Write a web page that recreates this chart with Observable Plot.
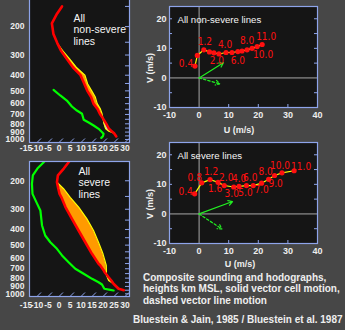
<!DOCTYPE html>
<html><head><meta charset="utf-8">
<script src="https://cdn.jsdelivr.net/npm/d3@7"></script>
<script src="https://cdn.jsdelivr.net/npm/@observablehq/plot@0.6"></script>
<style>
body{margin:0;background:#474747;}
#wrap{position:relative;width:345px;height:330px;background:#474747;overflow:hidden;font-family:"Liberation Sans",Arial,sans-serif;color:#eeeeee;}
.cap{position:absolute;font-weight:bold;font-size:10px;line-height:11.7px;white-space:nowrap;}
.ax{position:absolute;font-weight:bold;font-size:9px;line-height:12px;white-space:nowrap;text-align:center;width:100px;}
.panel{position:absolute;}
</style></head><body><div id="wrap"></div>
<script>
// ---------- Composite soundings (pressure hPa, temperature °C) ----------
// non-severe lines
const nsEnvP = [150,167,191,222,254,281,317,357,400,452,500,547,600,646,693,740,800,859,888,914,958];
const nsEnvT = [-60.5,-59.4,-57.4,-51.9,-45.8,-41.0,-34.4,-27.9,-20.8,-15.2,-10.6,-6.0,-2.0,2.2,5.5,9.0,13.0,16.5,18.8,20.8,23.3];
const nsParcelP = [254,281,317,357,400,452,500,547,600,646,693,740,800,859,888,914];
const nsParcelT = [-45.8,-40.3,-33.2,-26.4,-18.8,-13.7,-8.6,-4.1,-0.3,3.5,6.5,9.0,12.0,15.0,17.5,20.8];
const nsDewP = [493,534,574,625,662,693,755,785,819,859,901,922,954,977];
const nsDewT = [-26.4,-20.8,-15.5,-10.5,-6.4,-2.6,0.9,4.4,8.0,11.8,14.9,16.3,17.1,17.1];
// severe lines
const svEnvP = [153,168,185,204,224,241,253,291,344,406,480,566,652,668,717,735,752,790,827,867,931,950];
const svEnvT = [-56.7,-56.0,-55.6,-52.9,-49.3,-46.4,-44.0,-37.7,-29.4,-21.1,-12.7,-4.4,3.1,4.7,8.5,9.7,11.0,13.8,16.5,19.0,23.6,26.6];
const svParcelP = [204,224,253,291,344,406,480,566,668,735,752,827,867];
const svParcelT = [-52.9,-46.9,-40.0,-31.7,-22.6,-14.3,-6.7,0.6,7.4,10.5,11.0,15.3,19.0];
const svDewP = [153,168,185,209,241,271,305,378,436,480,527,579,638,700,752,808,848,876,931,945,954];
const svDewT = [-68,-68,-67,-63.5,-58.7,-53.2,-47.6,-40,-34,-28.6,-22.6,-17.3,-11.2,-5.2,0.9,7.0,11.5,14.1,17.1,20.3,22.1];
const pressureLabels = [200,300,400,500,600,700,800,900,1000];
const tempLabels = [-15,-10,-5,0,5,10,15,20,25,30];

// ---------- Hodographs (m/s), heights km MSL ----------
const hodoHeights = [0.4,0.8,1.2,1.6,2.0,3.0,4.0,5.0,6.0,7.0,8.0,9.0,10.0,11.0];
const nsU = [-1.4,-0.6,1.6,3.5,5.0,6.7,9.1,11.1,13.1,14.5,16.2,17.9,19.6,21.3];
const nsV = [4.0,7.6,9.5,8.8,8.5,8.1,8.6,8.6,8.9,9.1,9.5,10.0,10.6,11.3];
const svU = [-1.5,0.9,3.7,6.4,8.5,11.7,13.5,16.0,18.3,21.1,23.5,25.5,28.0,32.1];
const svV = [6.8,10.5,11.6,10.7,9.6,9.1,9.3,9.6,9.6,10.4,11.7,13.0,13.9,14.6];
const nsCellMotion = [8.2, 5.1];
const nsLineMotion = [7.0, -2.0];
const svCellMotion = [11.3, 4.2];
const svLineMotion = [7.7, -5.1];
const nsLabeled = [0.4,1.2,2.0,4.0,6.0,8.0,10.0,11.0];
const svLabeled = [0.4,0.8,1.2,1.6,2.0,3.0,4.0,5.0,6.0,7.0,8.0,9.0,10.0,11.0];
const uTicks = [-10,0,10,20,30,40];
const vTicks = [-10,0,10,20];

const frameColor = "#8ea4ea";
const fontFam = '"Liberation Sans", Arial, Helvetica, sans-serif';
const narrowFam = '"Liberation Sans Narrow", "DejaVu Sans Condensed", "Arial Narrow", sans-serif';
const wrap = document.getElementById("wrap");

function place(node, left, top) {
  const d = document.createElement("div");
  d.className = "panel";
  d.style.left = left + "px"; d.style.top = top + "px";
  d.appendChild(node); wrap.appendChild(d);
}

function skewPanel(o) {
  const xDomain = [-13.41, 32.05];
  const frameW = o.width - 29 - 11;
  const frameH = o.height - o.mt - o.mb;
  const pb = o.pDomain[0];
  const pxPerLn = frameH / Math.log(o.pDomain[0] / o.pDomain[1]);
  const K = pxPerLn / (frameW / (xDomain[1] - xDomain[0]));
  const sx = (T, p) => T + K * Math.log(pb / p);
  const env = o.envP.map((p, i) => ({p, T: o.envT[i]}));
  const envMap = new Map(env.map(d => [d.p, d.T]));
  const parcel = o.parcelP.map((p, i) => ({p, T: o.parcelT[i], E: envMap.get(p)}));
  const dew = o.dewP.map((p, i) => ({p, T: o.dewT[i]}));
  const pTick = d3.range(150, 1001, 50).filter(p => p > o.pDomain[1] && p < o.pDomain[0]);
  const isoT = tempLabels.filter(t => t > xDomain[0] && t < xDomain[1]);
  const pUp = pb * Math.exp(-4 / pxPerLn);
  return Plot.plot({
    width: o.width, height: o.height,
    marginLeft: 29, marginRight: 11, marginTop: o.mt, marginBottom: o.mb,
    style: {background: "transparent", color: "#eeeeee", fontFamily: fontFam, fontSize: "8.5px", fontWeight: "bold", overflow: "visible"},
    x: {domain: xDomain, ticks: tempLabels, tickSize: 0, tickPadding: o.xPad, tickFormat: d => String(d), label: null},
    y: {type: "log", domain: o.pDomain, ticks: pressureLabels, tickSize: 0, tickPadding: 5, tickFormat: d => String(d), label: null},
    marks: [
      Plot.frame({fill: "#151515"}),
      Plot.areaX(parcel, {y: "p", x1: d => sx(d.E, d.p), x2: d => sx(Math.max(d.T, d.E), d.p), fill: "#ff9a00"}),
      Plot.areaX(parcel, {y: "p", x1: d => sx(Math.min(d.T, d.E), d.p), x2: d => sx(d.E, d.p), fill: "#b4c8ff"}),
      Plot.line(parcel, {x: d => sx(d.T, d.p), y: "p", stroke: "#ffff00", strokeWidth: 1.2}),
      Plot.line(env, {x: d => sx(d.T, d.p), y: "p", stroke: "#ff0000", strokeWidth: 2.6, clip: true}),
      Plot.line(dew, {x: d => sx(d.T, d.p), y: "p", stroke: "#00ff00", strokeWidth: 2.2, clip: true}),
      Plot.tickY(pTick, {y: d => d, stroke: frameColor, insetLeft: frameW - 4}),
      Plot.link(isoT, {x1: d => d, y1: () => pb, x2: d => sx(d, pUp), y2: () => pUp, stroke: frameColor, strokeWidth: 1}),
      Plot.text([o.label], {text: d => d, frameAnchor: "top-left", dx: o.ldx, dy: o.ldy, lineAnchor: "top", textAnchor: "start",
        fill: "#f4f4f4", fontSize: 10.5, fontWeight: "normal", lineHeight: 1.1, fontFamily: fontFam}),
      Plot.frame({stroke: frameColor, strokeWidth: 1.2})
    ]
  });
}

const offs = {
  ns: {0.4: [-9, -2], 1.2: [1, -8], 2.0: [3, 8], 4.0: [-1, -8], 6.0: [0, 9], 8.0: [0, -9], 10.0: [6, 8], 11.0: [4, -8]},
  sv: {0.4: [-9, -2], 0.8: [-7, -5], 1.2: [1, -8], 1.6: [-3, 7], 2.0: [2, -8], 3.0: [-2, 7], 4.0: [0, -8], 5.0: [-1, 7],
       6.0: [-3, -8], 7.0: [0, 7], 8.0: [-3, -8], 9.0: [1, 8], 10.0: [-2, -7], 11.0: [7, -4]}
};

function hodoPanel(o) {
  const pts = hodoHeights.map((h, i) => ({h, u: o.U[i], v: o.V[i]}));
  const lab = pts.filter(d => o.labeled.includes(d.h));
  const off = offs[o.key];
  const textMarks = lab.map(d => Plot.text([d], {x: "u", y: "v", text: e => e.h.toFixed(1),
    dx: off[d.h][0], dy: off[d.h][1], fill: "#ff1010", fontSize: 10, fontWeight: "normal", fontFamily: narrowFam}));
  const fw = 205 - 29 - 28, fh = 138 - 6 - 31;
  return Plot.plot({
    width: 205, height: 138, marginLeft: 29, marginRight: 28, marginTop: 6, marginBottom: 31,
    style: {background: "transparent", color: "#eeeeee", fontFamily: fontFam, fontSize: "9px", fontWeight: "bold", overflow: "visible"},
    x: {domain: [-10, 40], ticks: uTicks, tickSize: 0, tickPadding: 4, tickFormat: d => String(d), label: null},
    y: {domain: [-10, 24.15], ticks: vTicks, tickSize: 0, tickPadding: 3, tickFormat: d => String(d), label: null},
    marks: [
      Plot.frame({fill: "#151515"}),
      Plot.ruleX([0], {stroke: "#a8a8a8", strokeWidth: 1}),
      Plot.ruleY([0], {stroke: "#a8a8a8", strokeWidth: 1}),
      Plot.tickX([10, 20, 30], {x: d => d, stroke: frameColor, insetTop: fh - 3}),
      Plot.tickY([-5, 5, 10, 15, 20], {y: d => d, stroke: frameColor, insetLeft: fw - 3}),
      Plot.tickY([-5, 5, 10, 15, 20], {y: d => d, stroke: frameColor, insetRight: fw - 3}),
      Plot.arrow([o.cell], {x1: () => 0, y1: () => 0, x2: d => d[0], y2: d => d[1], stroke: "#22ee22", strokeWidth: 1.2, headLength: 6}),
      Plot.arrow([o.line], {x1: () => 0, y1: () => 0, x2: d => d[0], y2: d => d[1], stroke: "#22ee22", strokeWidth: 1.2, headLength: 6, strokeDasharray: "2.5,2"}),
      Plot.line(pts, {x: "u", y: "v", stroke: "#ffff00", strokeWidth: 1.2}),
      Plot.dot(pts, {x: "u", y: "v", fill: "#ff1010", r: 2.6}),
      ...textMarks,
      Plot.text([o.title], {text: d => d, frameAnchor: "top-left", dx: 8, dy: 10, textAnchor: "start",
        fill: "#f4f4f4", fontSize: 9.6, fontWeight: "normal", fontFamily: fontFam}),
      Plot.frame({stroke: frameColor, strokeWidth: 1.2})
    ]
  });
}

place(skewPanel({envP: nsEnvP, envT: nsEnvT, parcelP: nsParcelP, parcelT: nsParcelT, dewP: nsDewP, dewT: nsDewT,
  pDomain: [1044, 134], width: 140, height: 158, mt: 0, mb: 14, xPad: 2,
  label: "All\nnon-severe\nlines", ldx: 44, ldy: 15}), 0, -2);
place(skewPanel({envP: svEnvP, envT: svEnvT, parcelP: svParcelP, parcelT: svParcelT, dewP: svDewP, dewT: svDewT,
  pDomain: [1039, 152], width: 140, height: 150, mt: 1, mb: 14, xPad: 5,
  label: "All\nsevere\nlines", ldx: 49, ldy: 5}), 0, 160);
place(hodoPanel({key: "ns", U: nsU, V: nsV, cell: nsCellMotion, line: nsLineMotion, labeled: nsLabeled, title: "All non-severe lines"}), 140, 0);
place(hodoPanel({key: "sv", U: svU, V: svV, cell: svCellMotion, line: svLineMotion, labeled: svLabeled, title: "All severe lines"}), 140, 136);

function addText(cls, html, left, top, extra) {
  const d = document.createElement("div");
  d.className = cls; d.innerHTML = html;
  d.style.left = left + "px"; d.style.top = top + "px";
  if (extra) Object.assign(d.style, extra);
  wrap.appendChild(d);
}
addText("ax", "U (m/s)", 189, 124);
addText("ax", "U (m/s)", 190, 258.4);
addText("ax", "V (m/s)", 100, 61.5, {transform: "rotate(-90deg)", transformOrigin: "50% 50%"});
addText("ax", "V (m/s)", 100, 198, {transform: "rotate(-90deg)", transformOrigin: "50% 50%"});
addText("cap", "Composite sounding and hodographs,<br>heights km MSL, solid vector cell motion,<br>dashed vector line motion", 143, 271.6);
addText("cap", "Bluestein &amp; Jain, 1985 / Bluestein et al. 1987", 133, 314.3);
</script></body></html>
